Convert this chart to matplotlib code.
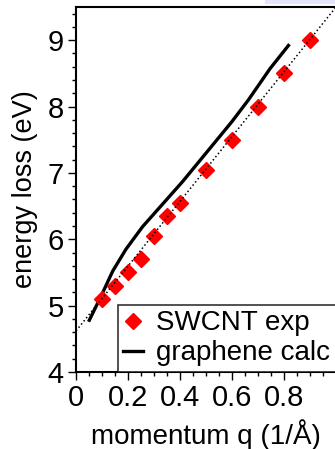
import matplotlib.pyplot as plt
from matplotlib.patches import Rectangle
from matplotlib.ticker import MultipleLocator

plt.rcParams['font.family'] = ['Liberation Sans', 'DejaVu Sans']

# measured points (SWCNT)
exp_q = [0.1, 0.15, 0.2, 0.25, 0.3, 0.35, 0.4, 0.5, 0.6, 0.7, 0.8, 0.9]
exp_e = [5.1, 5.3, 5.5, 5.7, 6.05, 6.35, 6.55, 7.05, 7.5, 8.0, 8.5, 9.0]

# graphene calculation
calc_q = [0.051, 0.096, 0.141, 0.192, 0.256, 0.333, 0.41, 0.515, 0.599, 0.663, 0.746, 0.817]
calc_e = [4.78, 5.14, 5.52, 5.85, 6.19, 6.53, 6.87, 7.37, 7.77, 8.10, 8.57, 8.92]

# linear guide
fit_q = [0.0, 1.0]
fit_e = [4.62, 9.5]

fig = plt.figure(figsize=(3.35, 4.49), dpi=100)
ax = fig.add_axes([0.227, 0.1715, 0.776, 0.8129])

ax.plot(calc_q, calc_e, color='black', lw=2.4, label='graphene calc', zorder=2)
ax.plot(exp_q, exp_e, 'D', color='red', ms=8, mec='red', ls='none',
        label='SWCNT exp', zorder=3)
ax.plot(fit_q, fit_e, ':', color='black', lw=1.1, zorder=4)

ax.set_xlim(0, 1.0)
ax.set_ylim(4, 9.5)
ax.xaxis.set_major_locator(MultipleLocator(0.2))
ax.xaxis.set_minor_locator(MultipleLocator(0.05))
ax.yaxis.set_major_locator(MultipleLocator(1))
ax.yaxis.set_minor_locator(MultipleLocator(0.2))
ax.set_xticks([0, 0.2, 0.4, 0.6, 0.8])
ax.set_xticklabels(['0', '0.2', '0.4', '0.6', '0.8'])
ax.tick_params(which='major', length=6, width=1, labelsize=21, pad=3)
ax.tick_params(which='minor', length=3, width=1)
for s in ax.spines.values():
    s.set_linewidth(1.5)

ax.set_xlabel('momentum q (1/Å)', fontsize=20, labelpad=5)
ax.set_ylabel('energy loss (eV)', fontsize=19.5, labelpad=7)

h, l = ax.get_legend_handles_labels()
leg = ax.legend(h[::-1], l[::-1], loc='lower right', fontsize=20,
                frameon=True, fancybox=False, edgecolor='black',
                handlelength=0.7, handletextpad=0.5, borderaxespad=0,
                borderpad=0.2, labelspacing=0.15, numpoints=1)
leg.get_frame().set_linewidth(1.2)

fig.patches.append(Rectangle((0.79, 0.994), 0.21, 0.006, transform=fig.transFigure,
                             color='#e4e4fa', zorder=0))

fig.savefig('out.png', dpi=100)
